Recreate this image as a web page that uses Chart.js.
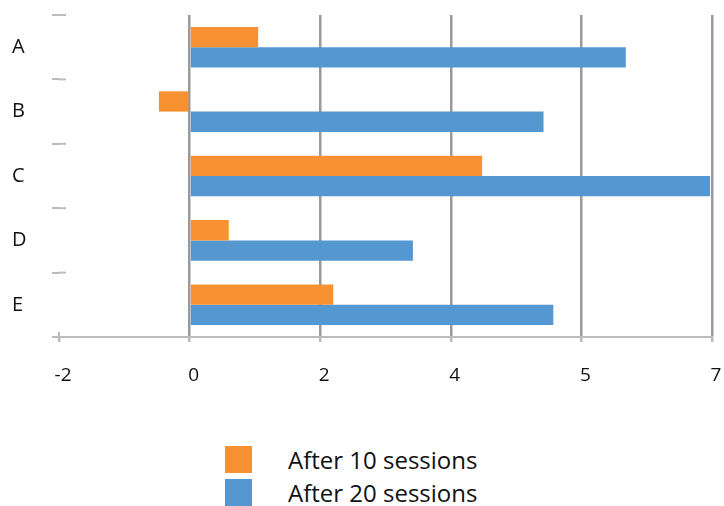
<!DOCTYPE html>
<html>
<head>
<meta charset="utf-8">
<script src="https://cdn.jsdelivr.net/npm/chart.js@4.4.0/dist/chart.umd.min.js"></script>
<style>
body { margin: 0; background: #fff; font-family: 'Open Sans', sans-serif; }
#wrap { position: relative; width: 724px; height: 506px; }
#chartBox { position: absolute; left: 0; top: 0; width: 724px; height: 400px; }
#legend { position: absolute; left: 225px; top: 446px; }
.item { display: flex; align-items: center; height: 27px; margin-bottom: 6px; font-size: 24px; color: #111; }
.swatch { width: 27px; height: 27px; margin-right: 36px; }
</style>
</head>
<body>
<div id="wrap">
  <div id="chartBox"><canvas id="barChart"></canvas></div>
  <div id="legend"></div>
</div>
<script>
const categories = ['A', 'B', 'C', 'D', 'E'];
const after10 = [1.05, -0.47, 4.48, 0.6, 2.2];
const after20 = [6.68, 5.42, 7.97, 3.42, 5.57];
const tickLabels = ['-2', '0', '2', '4', '5', '7'];
const seriesNames = ['After 10 sessions', 'After 20 sessions'];
const colors = ['#f89132', '#5597d0'];

// small ticks that cross the left edge at each category boundary
const innerTicks = {
    id: 'innerTicks',
    afterDraw(chart) {
        const ctx = chart.ctx;
        const area = chart.chartArea;
        const y = chart.scales.y;
        ctx.save();
        ctx.strokeStyle = '#bbb';
        ctx.lineWidth = 2;
        for (let i = 0; i <= categories.length; i++) {
            const py = y.getPixelForValue(i - 0.5);
            ctx.beginPath();
            ctx.moveTo(area.left, py);
            ctx.lineTo(area.left + 7, py);
            ctx.stroke();
        }
        ctx.beginPath();
        ctx.moveTo(area.left, area.bottom - 5);
        ctx.lineTo(area.left, area.bottom);
        ctx.stroke();
        ctx.restore();
    }
};

const ctx = document.getElementById('barChart').getContext('2d');
const barChart = new Chart(ctx, {
    type: 'bar',
    data: {
        labels: categories,
        datasets: [{
            label: seriesNames[0],
            data: after10,
            backgroundColor: colors[0],
            categoryPercentage: 0.63,
            barPercentage: 1
        }, {
            label: seriesNames[1],
            data: after20,
            backgroundColor: colors[1],
            categoryPercentage: 0.63,
            barPercentage: 1
        }]
    },
    options: {
        indexAxis: 'y',
        responsive: true,
        maintainAspectRatio: false,
        animation: false,
        layout: { padding: { left: 12, right: 12, top: 12, bottom: 0 } },
        plugins: {
            legend: { display: false },
            tooltip: { enabled: false }
        },
        scales: {
            x: {
                type: 'linear',
                min: -2,
                max: 8,
                z: 1,
                afterFit: (s) => { s.height = 63; s.paddingLeft = 0; s.paddingRight = 0; },
                ticks: {
                    stepSize: 2,
                    padding: 22,
                    labelOffset: 4,
                    color: '#111',
                    font: { family: 'Open Sans', size: 19 },
                    callback: (v, i) => tickLabels[i]
                },
                grid: {
                    color: (c) => c.index === 0 ? 'rgba(0,0,0,0)' : '#999',
                    lineWidth: 2.5,
                    tickColor: '#bbb',
                    tickLength: 5
                },
                border: { display: true, color: '#bbb', width: 2 }
            },
            y: {
                afterFit: (s) => { s.width = 47; },
                ticks: {
                    crossAlign: 'far',
                    color: '#111',
                    font: { family: 'Open Sans', size: 20 }
                },
                grid: {
                    drawOnChartArea: false,
                    offset: true,
                    tickColor: '#bbb',
                    tickLength: 7,
                    lineWidth: 2
                },
                border: { display: false }
            }
        }
    },
    plugins: [innerTicks]
});

const legend = document.getElementById('legend');
seriesNames.forEach((name, i) => {
    const item = document.createElement('div');
    item.className = 'item';
    item.innerHTML = '<span class="swatch" style="background:' + colors[i] + '"></span><span>' + name + '</span>';
    legend.appendChild(item);
});
</script>
</body>
</html>
